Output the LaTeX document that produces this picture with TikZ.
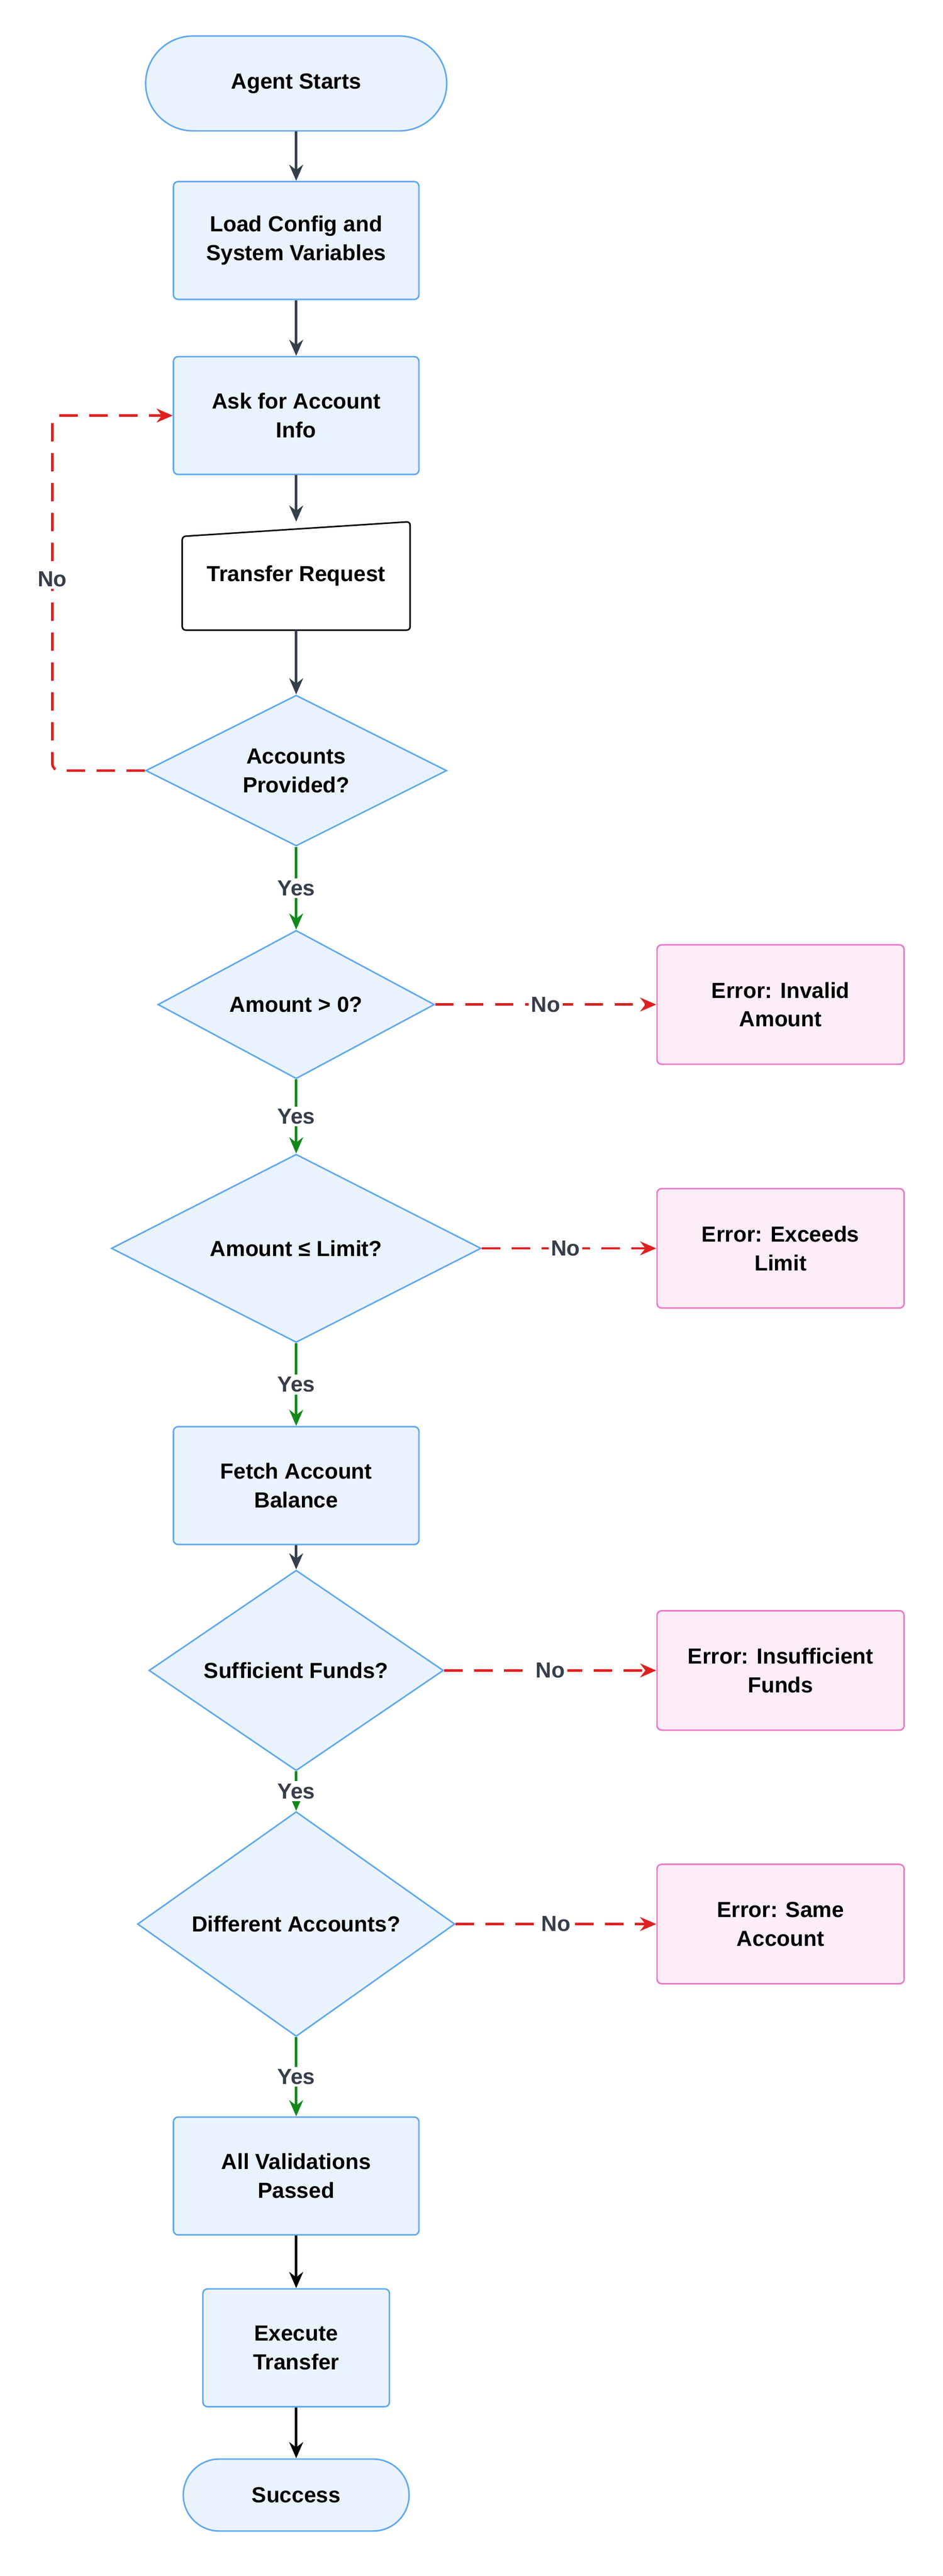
\documentclass[tikz,border=0pt]{standalone}
\usepackage{fontspec}
\setmainfont{Liberation Sans}
\usetikzlibrary{shapes.geometric,arrows.meta}

\definecolor{boxfill}{HTML}{EAF3FD}
\definecolor{boxline}{HTML}{5FA8F2}
\definecolor{errfill}{HTML}{FDEDF8}
\definecolor{errline}{HTML}{EC79C6}
\definecolor{arrowgray}{HTML}{353E4A}
\definecolor{yesgreen}{HTML}{12881A}
\definecolor{nored}{HTML}{E0201F}

\tikzset{
    every node/.style={font=\fontsize{19}{25}\selectfont\bfseries, align=center},
    process/.style={draw=boxline, fill=boxfill, line width=1.3pt, rounded corners=4pt,
                 minimum width=7.5cm, minimum height=3.6cm},
    err/.style={draw=errline, fill=errfill, line width=1.3pt, rounded corners=4pt,
                minimum width=7.55cm, minimum height=3.65cm},
    check/.style={draw=boxline, fill=boxfill, line width=1.3pt, shape=diamond, inner sep=0pt},
    flow/.style={draw=arrowgray, line width=2.2pt, -{Stealth[length=14pt,width=12pt]}},
    yes/.style={draw=yesgreen, line width=2.2pt, -{Stealth[length=14pt,width=12pt]}},
    no/.style={draw=nored, line width=2.2pt, dash pattern=on 16pt off 10pt, -{Stealth[length=14pt,width=12pt]}},
    lbl/.style={fill=white, text=arrowgray, inner sep=2pt}
}

\begin{document}
\begin{tikzpicture}[x=0.05cm, y=-0.05cm]
    \useasboundingbox[fill=white] (0,0) rectangle (576,1574.5);

    % main column
    \node[process, minimum width=9.2cm, minimum height=2.9cm, rounded corners=1.45cm] (start) at (181,51) {Agent Starts};
    \node[process] (config) at (181,147) {Load Config and\\System Variables};
    \node[process] (ask) at (181,254) {Ask for Account\\Info};
    \node[minimum width=6.95cm, minimum height=3.3cm] (request) at (181,352) {Transfer Request};
    \draw[black, line width=1.3pt, rounded corners=3pt]
        (request.south west) -- (request.south east) -- (request.north east)
        -- ([yshift=-0.45cm]request.north west) -- cycle;
    \node[check, minimum width=9.2cm, minimum height=4.35cm] (provided) at (181,471) {Accounts\\Provided?};
    \node[check, minimum width=8.45cm, minimum height=4.1cm] (positive) at (181,614) {Amount > 0?};
    \node[check, minimum width=11.3cm, minimum height=5.35cm] (limit) at (181,763) {Amount ≤ Limit?};
    \node[process] (fetch) at (181,908) {Fetch Account\\Balance};
    \node[check, minimum width=9cm, minimum height=4.2cm] (funds) at (181,1021) {Sufficient Funds?};
    \node[check, minimum width=9.7cm, minimum height=4.6cm] (different) at (181,1176) {Different Accounts?};
    \node[process] (passed) at (181,1330) {All Validations\\Passed};
    \node[process, minimum width=5.7cm] (execute) at (181,1435) {Execute\\Transfer};
    \node[process, minimum width=6.9cm, minimum height=2.2cm, rounded corners=1.1cm] (success) at (181,1525) {Success};

    % errors
    \node[err] (invalid) at (477,614) {Error: Invalid\\Amount};
    \node[err] (exceeds) at (477,763) {Error: Exceeds\\Limit};
    \node[err] (insufficient) at (477,1021) {Error: Insufficient\\Funds};
    \node[err] (same) at (477,1176) {Error: Same\\Account};

    \draw[flow] (start) -- (config);
    \draw[flow] (config) -- (ask);
    \draw[flow] (ask) -- (request);
    \draw[flow] (request) -- (provided);
    \draw[no, rounded corners=6pt] (provided.west) -- (32,471) -- (32,254) -- (ask.west);
    \node[lbl] (noloop) at (32,354) {No};

    \draw[yes] (provided) -- node[lbl] {Yes} (positive);
    \draw[yes] (positive) -- node[lbl] {Yes} (limit);
    \draw[yes] (limit) -- node[lbl] {Yes} (fetch);
    \draw[flow] (fetch) -- (funds);
    \draw[yes] (funds) -- node[lbl] {Yes} (different);
    \draw[yes] (different) -- node[lbl] {Yes} (passed);
    \draw[black, line width=2.4pt, -{Stealth[length=14pt,width=12pt]}] (passed) -- (execute);
    \draw[black, line width=2.4pt, -{Stealth[length=14pt,width=12pt]}] (execute) -- (success);

    \draw[no] (positive.east) -- node[lbl, pos=0.5] {No} (invalid.west);
    \draw[no] (limit.east) -- node[lbl, pos=0.48] {No} (exceeds.west);
    \draw[no] (funds.east) -- node[lbl, pos=0.5] {No} (insufficient.west);
    \draw[no] (different.east) -- node[lbl, pos=0.5] {No} (same.west);
\end{tikzpicture}
\end{document}
